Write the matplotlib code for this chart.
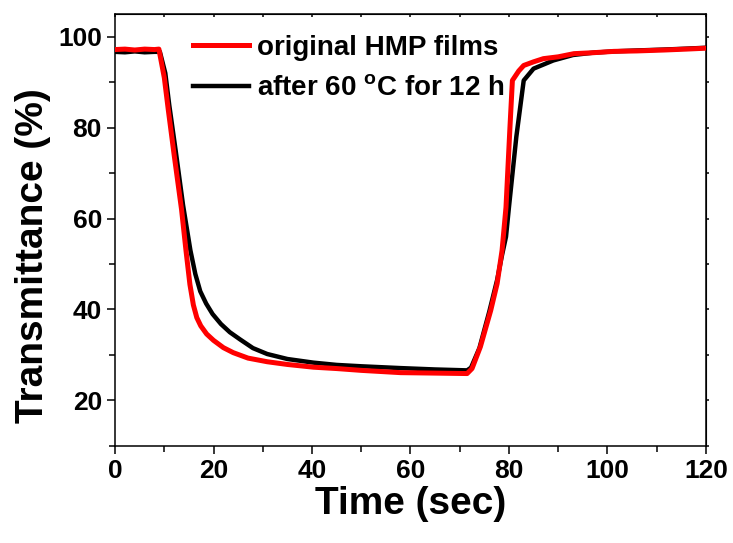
import matplotlib.pyplot as plt
import numpy as np

plt.rcParams["font.family"] = ["Liberation Sans", "DejaVu Sans"]
plt.rcParams["font.weight"] = "bold"
plt.rcParams["mathtext.fontset"] = "custom"
plt.rcParams["mathtext.rm"] = "Liberation Sans:bold"
plt.rcParams["mathtext.bf"] = "Liberation Sans:bold"

# original HMP films (red)
t_orig = [0, 2, 4, 6, 8, 8.9, 10, 10.8, 12, 13.5, 14.4, 15.2, 15.9, 16.6, 17.4, 18.6, 20, 22, 24,
          27, 30.9, 35, 40.3, 45, 50, 58, 65, 71.5, 72.5, 74.2, 76.3, 77.6, 78.6,
          79.4, 80.2, 80.7, 82, 83, 85, 87, 90, 93.2, 97, 101.3, 106, 111.5, 116, 120]
T_orig = [97.2, 97.3, 97.1, 97.3, 97.2, 97.3, 91, 84, 74, 62, 53, 45.5, 41, 38.2, 36.4, 34.6, 33.2, 31.6, 30.5,
          29.3, 28.5, 27.9, 27.3, 27.0, 26.6, 26.1, 26.0, 25.9, 27.0, 31.8, 39.8, 45.7, 53,
          62.5, 80, 90.4, 92.5, 93.7, 94.5, 95.2, 95.6, 96.3, 96.5, 96.8, 96.9, 97.1, 97.3, 97.5]

# after 60 C for 12 h (black)
t_heat = [0, 2, 4, 6, 8, 9.1, 10.2, 11, 12.3, 13.8, 15.3, 16.3, 17.3, 18.5, 19.8, 21.5, 23.3, 25.4,
          28, 30.9, 35, 40.3, 45, 50, 58, 65, 71.5, 72.3, 74, 76, 77.6, 78.6, 79.4, 80, 81.5,
          83, 85, 89, 93, 97, 101.3, 106, 111.5, 116, 120]
T_heat = [96.7, 96.6, 96.8, 96.6, 96.7, 96.7, 92, 85, 75, 63, 53, 47.8, 44, 41.3, 39.0, 36.8, 35.0, 33.4,
          31.5, 30.2, 29.1, 28.3, 27.8, 27.5, 27.1, 26.8, 26.6, 27.2, 31.5, 39.5, 46.5, 52, 56, 62.5, 78,
          90.4, 93, 94.8, 96.0, 96.5, 96.8, 97.0, 97.2, 97.4, 97.6]

fig = plt.figure(figsize=(7.33, 5.43), dpi=100)
ax = fig.add_axes([0.157, 0.179, 0.806, 0.795])

ax.plot(t_heat, T_heat, color="black", lw=3.2, label=r"after 60 $^{\mathbf{o}}$C for 12 h", zorder=2)
ax.plot(t_orig, T_orig, color="#ff0000", lw=3.6, label="original HMP films", zorder=3)

ax.set_xlim(0, 120)
ax.set_ylim(10, 105)
ax.set_xticks(np.arange(0, 121, 20))
ax.set_xticks(np.arange(10, 120, 20), minor=True)
ax.set_yticks(np.arange(20, 101, 20))
ax.set_yticks(np.arange(10, 105, 20), minor=True)

for s in ax.spines.values():
    s.set_linewidth(1.1)
ax.tick_params(which="both", direction="out", width=1.1, labelsize=19)
ax.tick_params(which="major", length=6)
ax.tick_params(which="minor", length=4)
for lab in ax.get_xticklabels() + ax.get_yticklabels():
    lab.set_fontweight("bold")

# small ticks on top and right, no labels
top = ax.secondary_xaxis("top")
top.set_xticks(np.arange(0, 121, 10))
top.tick_params(direction="in", length=2.5, width=1.1, labeltop=False)
right = ax.secondary_yaxis("right")
right.set_yticks(np.arange(10, 105, 10))
right.tick_params(direction="out", length=2.5, width=1.1, labelright=False)

ax.set_xlabel("Time (sec)", fontsize=28, fontweight="bold", labelpad=2)
ax.set_ylabel("Transmittance (%)", fontsize=28, fontweight="bold")
ax.yaxis.set_label_coords(-0.108, 0.44)

handles, labels = ax.get_legend_handles_labels()
ax.legend(handles[::-1], labels[::-1], loc="upper left", bbox_to_anchor=(0.09, 1.01),
          frameon=False, handlelength=2.0, handletextpad=0.3,
          labelspacing=0.55, prop={"weight": "bold", "size": 20})

fig.savefig("out.png", dpi=100)
